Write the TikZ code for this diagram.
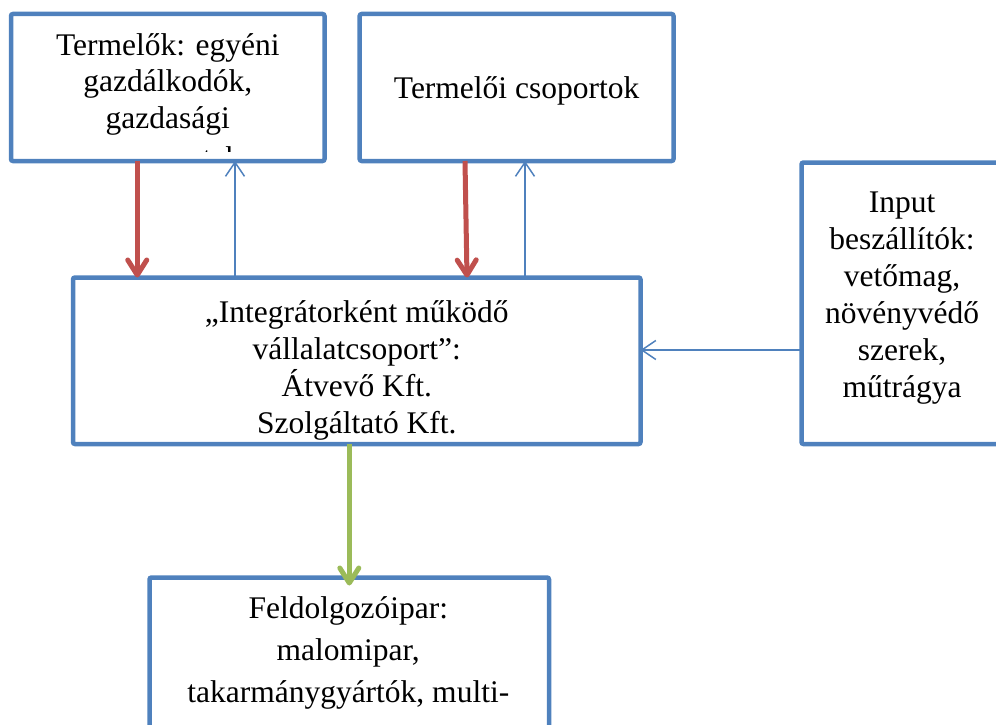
\documentclass[tikz,border=0pt]{standalone}
\usepackage{fontspec}
\setmainfont{Liberation Serif}
\usetikzlibrary{arrows.meta, positioning}
\definecolor{boxblue}{HTML}{4F81BD}
\definecolor{flowred}{HTML}{C0504D}
\definecolor{flowgreen}{HTML}{9BBB59}

\begin{document}
\begin{tikzpicture}[x = 1pt, y = 1pt,
	box/.style = {draw = boxblue, line width = 4.5pt, rounded corners = 2pt, outer sep = 0pt, inner sep = 0pt},
	txt/.style = {align = center, inner sep = 0pt, anchor = base, font = \fontsize{31.5}{36.5}\selectfont},
	flow/.style = {line width = 5pt, -{Straight Barb[round, length = 15pt, width = 19pt]}},
	feedback/.style = {line width = 1.5pt, draw = boxblue, -{Straight Barb[length = 14pt, width = 19pt]}}]
			\useasboundingbox (0,0) rectangle (996,-725);
			
			\node[box, minimum width = 313.5pt, minimum height = 147pt] (termelok) at (167.75,-87.5) {};
			\node[box, minimum width = 313.8pt, minimum height = 147pt] (csoport) at (516.6,-87.5) {};
			\node[box, minimum width = 567.5pt, minimum height = 166.5pt] (integrator) at (356.75,-360.75) {};
			\node[box, minimum width = 201pt, minimum height = 281.5pt] (input) at (902,-303.25) {};
			\node[box, minimum width = 399.5pt, minimum height = 182.5pt] (feldolgozo) at (349.25,-668.75) {};
			
			\begin{scope}
				\clip ([shift = {(2.25pt,9.5pt)}]termelok.south west) rectangle ([shift = {(-2.25pt,-2.25pt)}]termelok.north east);
				\node[txt] (termelok-txt) at ([yshift = -154pt]termelok.north)
				{Termelők: egyéni\\gazdálkodók,\\gazdasági\\[3.5pt]szervezetek};
			\end{scope}
			
			\node[txt] (csoport-txt) at ([yshift = -84pt]csoport.north) {Termelői csoportok};
			\node[txt, font = \fontsize{31.5}{36.7}\selectfont] (integrator-txt) at ([yshift = -155.5pt]integrator.north)
			{„Integrátorként működő\\vállalatcsoport”:\\Átvevő Kft.\\Szolgáltató Kft.};
			\node[txt, font = \fontsize{31.5}{37}\selectfont] (input-txt) at ([yshift = -234.5pt]input.north)
			{Input\\beszállítók:\\vetőmag,\\növényvédő\\szerek,\\műtrágya};
			\node[txt, font = \fontsize{31.5}{42}\selectfont] (feldolgozo-txt) at ([xshift = -1pt, yshift = -124.5pt]feldolgozo.north)
			{Feldolgozóipar:\\malomipar,\\takarmánygyártók, multi-};
			
			\draw[flow, flowred] ([xshift = -30.5pt]termelok.south) -- ([xshift = -30.5pt]termelok.south |- integrator.north);
			\draw[feedback] ([xshift = 67.25pt]termelok.south |- integrator.north) -- ([xshift = 67.25pt]termelok.south);
			\draw[flow, flowred] ([xshift = -51.6pt]csoport.south) -- ([xshift = -49.6pt]csoport.south |- integrator.north);
			\draw[feedback] ([xshift = 8.4pt]csoport.south |- integrator.north) -- ([xshift = 8.4pt]csoport.south);
			\draw[feedback] ([yshift = -46.75pt]input.west) coordinate (inp) -- (inp -| integrator.east);
			\draw[flow, flowgreen, shorten > = -8pt] ([xshift = -7.45pt]integrator.south) -- ([xshift = -7.45pt]integrator.south |- feldolgozo.north);
		\end{tikzpicture}
\end{document}
